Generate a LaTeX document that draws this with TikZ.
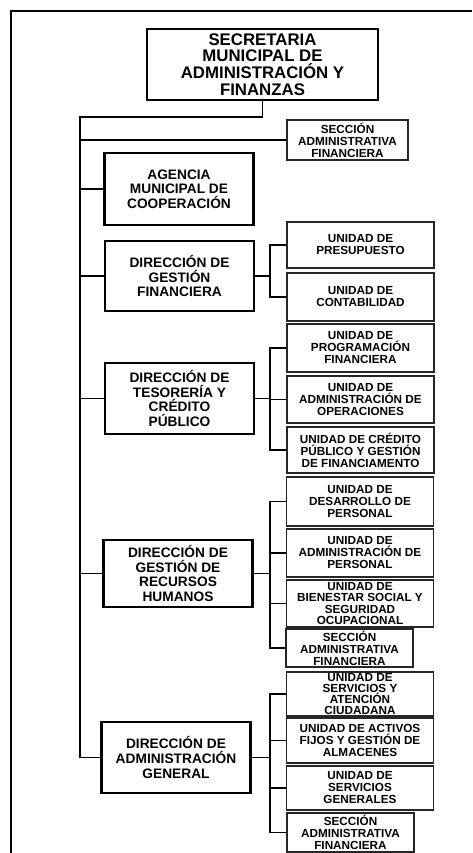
\documentclass[tikz,border=0pt]{standalone}
\usepackage{fontspec}
\setmainfont{Liberation Sans}
\usepackage{tikz}
\usetikzlibrary{positioning}

\begin{document}
\begin{tikzpicture}[x=0.75pt,y=0.75pt,yscale=-1,xscale=1,
  secretaria/.style={draw=black,line width=1.9pt,align=center,inner sep=0pt,minimum width=173.25pt,minimum height=53.25pt,font=\bfseries\fontsize{12.6}{12.6}\selectfont},
  direccion/.style={draw=black,line width=1.6pt,align=center,inner sep=0pt,minimum width=111.75pt,minimum height=53.25pt,font=\bfseries\fontsize{10.3}{10.9}\selectfont},
  unidad/.style={draw=black!85,line width=1.1pt,align=center,inner sep=0pt,minimum width=110.25pt,minimum height=34.5pt,font=\bfseries\fontsize{8.8}{9}\selectfont},
  seccion/.style={unidad,minimum width=95.25pt,minimum height=29.25pt},
  enlace/.style={line width=1.2pt,draw=black}]
\useasboundingbox (0,0) rectangle (472,853);

%Frame
\draw [line width=1.6pt] (11,853) -- (11,11) -- (472,11) ;

% Text Node
\node [secretaria] (sec) at (262.5,64.5) {SECRETARIA\\MUNICIPAL DE\\ADMINISTRACIÓN Y\\FINANZAS};
% Text Node
\node [seccion,minimum width=90.75pt,minimum height=30pt] (secAF) at (347.5,140) {SECCIÓN\\ADMINISTRATIVA\\FINANCIERA};
% Text Node
\node [direccion,minimum height=54pt] (amc) at (179,189) {AGENCIA\\MUNICIPAL DE\\COOPERACIÓN};

% Text Node
\node [direccion,minimum height=52.5pt] (dgf) at (179.5,276) {DIRECCIÓN DE\\GESTIÓN\\FINANCIERA};
\node [unidad] (uPre) at (360.5,245) {UNIDAD DE\\PRESUPUESTO};
\node [unidad,minimum height=36pt] (uCon) at (360.5,297) {UNIDAD DE\\CONTABILIDAD};

% Text Node
\node [direccion] (dtcp) at (179.5,398.5) {DIRECCIÓN DE\\TESORERÍA Y\\CRÉDITO\\PÚBLICO};
\node [unidad,minimum height=36pt] (uPro) at (360.5,348) {UNIDAD DE\\PROGRAMACIÓN\\FINANCIERA};
\node [unidad,minimum height=35.25pt] (uOpe) at (360.5,399.5) {UNIDAD DE\\ADMINISTRACIÓN DE\\OPERACIONES};
\node [unidad] (uCre) at (360.5,450) {UNIDAD DE CRÉDITO\\PÚBLICO Y GESTIÓN\\DE FINANCIAMENTO};

% Text Node
\node [direccion,minimum height=50.25pt] (dgrh) at (178,573.5) {DIRECCIÓN DE\\GESTIÓN DE\\RECURSOS\\HUMANOS};
\node [unidad,minimum height=36.75pt] (uDes) at (360,501.5) {UNIDAD DE\\DESARROLLO DE\\PERSONAL};
\node [unidad,minimum height=36pt] (uAdp) at (360,553) {UNIDAD DE\\ADMINISTRACIÓN DE\\PERSONAL};
\node [unidad,minimum height=35.25pt,font=\bfseries\fontsize{8.8}{8.5}\selectfont] (uBie) at (360,603.5) {UNIDAD DE\\BIENESTAR SOCIAL Y\\SEGURIDAD\\OCUPACIONAL};
\node [seccion,minimum height=28.5pt] (secRH) at (349.5,648) {SECCIÓN\\ADMINISTRATIVA\\FINANCIERA};

% Text Node
\node [direccion] (dag) at (176,757.5) {DIRECCIÓN DE\\ADMINISTRACIÓN\\GENERAL};
\node [unidad,minimum height=33pt,font=\bfseries\fontsize{8.8}{7.6}\selectfont] (uSer) at (360,694) {UNIDAD DE\\SERVICIOS Y\\ATENCIÓN\\CIUDADANA};
\node [unidad,minimum height=33.75pt] (uAct) at (360,740.5) {UNIDAD DE ACTIVOS\\FIJOS Y GESTIÓN DE\\ALMACENES};
\node [unidad,minimum height=33pt] (uSeg) at (360,788) {UNIDAD DE\\SERVICIOS\\GENERALES};
\node [seccion] (secAG) at (350.5,832.5) {SECCIÓN\\ADMINISTRATIVA\\FINANCIERA};

%Straight Lines
\coordinate (tronco) at (80,117);
\coordinate (bus) at (270,0);
\draw [enlace] (sec.south) |- (tronco) |- (dag.west) ;
\foreach \n in {secAF,amc,dgf,dtcp,dgrh}
  \draw [enlace] (tronco |- \n.west) -- (\n.west) ;

%Straight Lines
\draw [enlace] (dgf.east) -- (bus |- dgf.east) ;
\draw [enlace] (uPre.west) -- (bus |- uPre.west) |- (uCon.west) ;
\draw [enlace] (dtcp.east) -- (bus |- dtcp.east) ;
\draw [enlace] (uPro.west) -- (bus |- uPro.west) |- (uCre.west) ;
\draw [enlace] (uOpe.west) -- (bus |- uOpe.west) ;
\draw [enlace] (dgrh.east) -- (bus |- dgrh.east) ;
\draw [enlace] (uDes.west) -- (bus |- uDes.west) |- (secRH.west) ;
\foreach \n in {uAdp,uBie}
  \draw [enlace] (\n.west) -- (bus |- \n.west) ;
\draw [enlace] (dag.east) -- (bus |- dag.east) ;
\draw [enlace] (uSer.west) -- (bus |- uSer.west) |- (secAG.west) ;
\foreach \n in {uAct,uSeg}
  \draw [enlace] (\n.west) -- (bus |- \n.west) ;

\end{tikzpicture}
\end{document}
